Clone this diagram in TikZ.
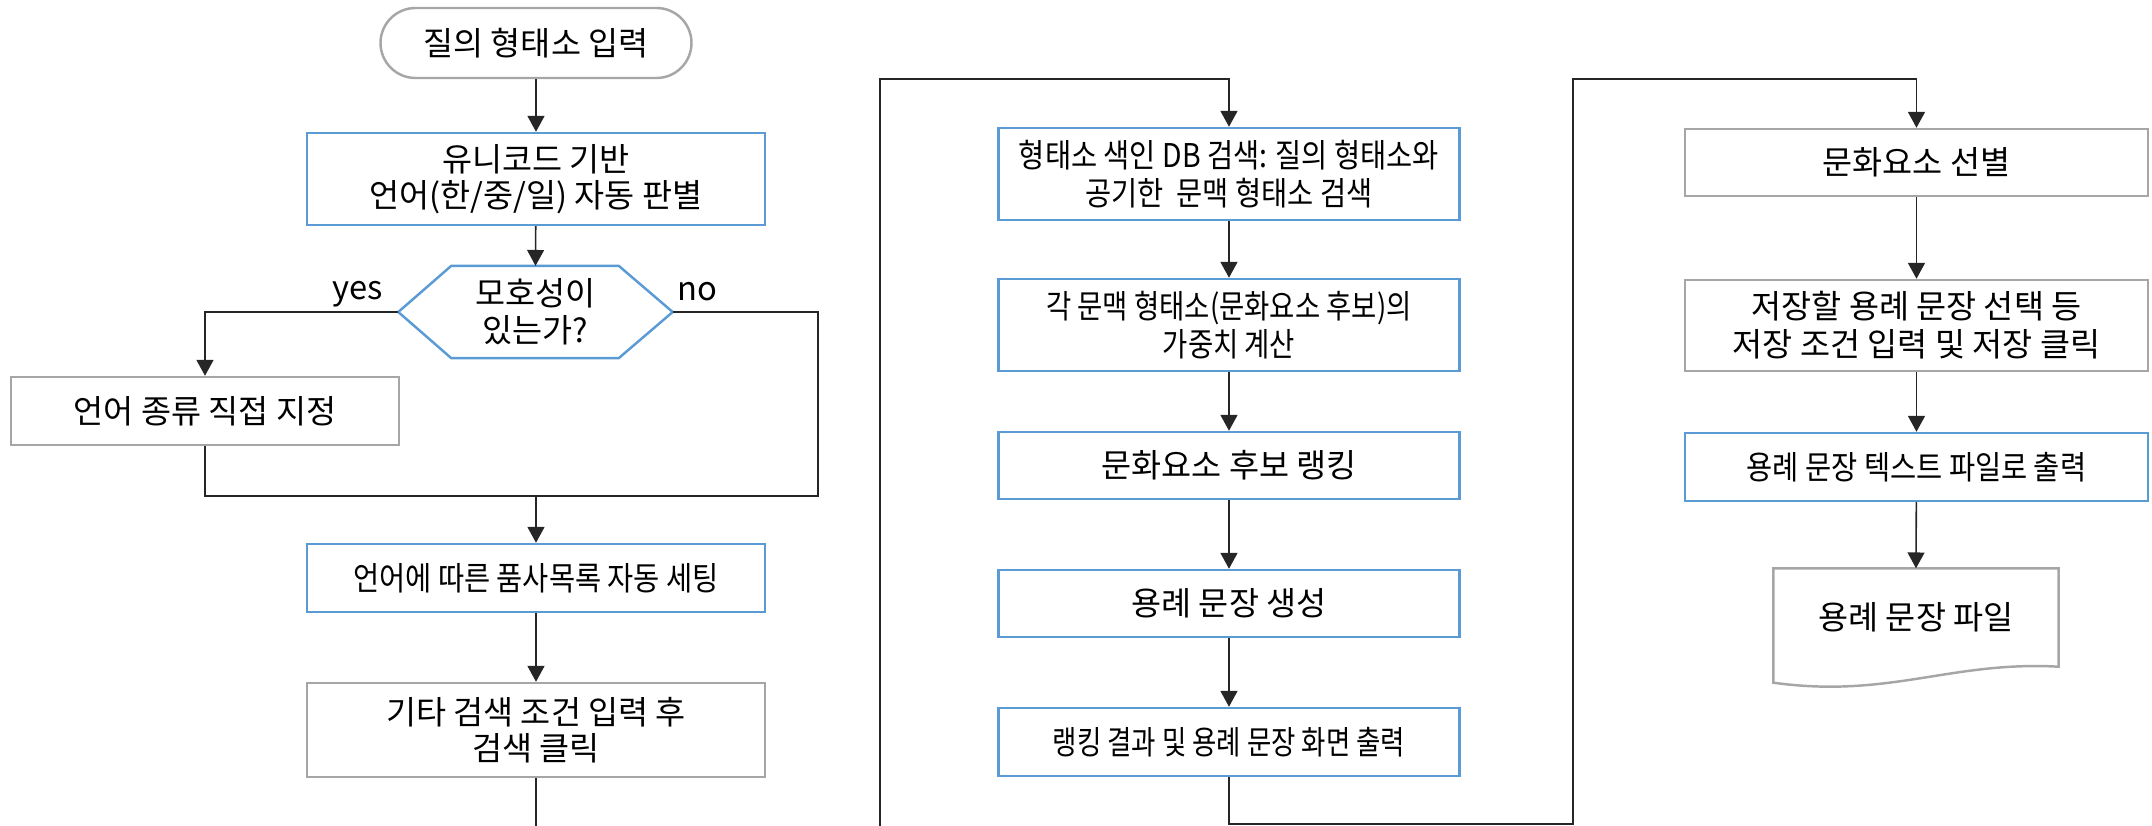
\documentclass[tikz,border=0pt]{standalone}
\usepackage{fontspec}
\setmainfont{Noto Sans CJK KR}
\newfontfamily\fa[FakeStretch=0.87]{Noto Sans CJK KR}
\newfontfamily\fb[FakeStretch=0.84]{Noto Sans CJK KR}
\newfontfamily\fc[FakeStretch=0.81]{Noto Sans CJK KR}
\usetikzlibrary{arrows.meta,calc}
\definecolor{boxblue}{HTML}{5B9BD5}
\definecolor{boxgray}{HTML}{A6A6A6}
\definecolor{linecol}{HTML}{262626}
\newcommand{\fs}{\fontsize{9.3pt}{10.1pt}\selectfont}
\newcommand{\fsc}{\fontsize{9.3pt}{10.8pt}\selectfont}
\newcommand{\fsd}{\fontsize{9.3pt}{10.6pt}\selectfont}
\begin{document}
\begin{tikzpicture}[x=1cm,y=1cm,
  font=\fs,
  box/.style={line width=0.7pt, align=center, inner sep=0pt, fill=white},
  bluebox/.style={box, draw=boxblue},
  graybox/.style={box, draw=boxgray},
  conn/.style={line width=0.45pt, draw=linecol, -{Triangle[width=4.8pt,length=4.5pt]}},
  plain/.style={line width=0.45pt, draw=linecol},
]
\useasboundingbox (0,0) rectangle (21.52,-8.26);
\clip (0,0) rectangle (21.52,-8.26);

% ---------- left column ----------
\node[graybox, rounded corners=0.35cm, minimum width=3.11cm, minimum height=0.70cm] (term) at (5.36,-0.43) {질의 형태소 입력};
\node[bluebox, minimum width=4.58cm, minimum height=0.92cm] (b1) at (5.36,-1.79) {유니코드 기반\\언어(한/중/일) 자동 판별};
\node[minimum width=2.73cm, minimum height=0.91cm, inner sep=0pt, align=center, font=\fsd] (dec) at (5.355,-3.12) {모호성이\\있는가?};
\draw[draw=boxblue, line width=0.7pt] (dec.west) -- ($(dec.north west)+(0.53,0)$) -- ($(dec.north east)+(-0.54,0)$) -- (dec.east) -- ($(dec.south east)+(-0.54,0)$) -- ($(dec.south west)+(0.53,0)$) -- cycle;
\node (yes) at (3.58,-2.94) {yes};
\node (no) at (6.97,-2.92) {no};
\node[graybox, minimum width=3.88cm, minimum height=0.68cm] (lang) at (2.05,-4.11) {언어 종류 직접 지정};
\node[bluebox, minimum width=4.58cm, minimum height=0.68cm, font=\fa\fs] (pos) at (5.36,-5.78) {언어에 따른 품사목록 자동 세팅};
\node[graybox, minimum width=4.58cm, minimum height=0.94cm] (etc) at (5.36,-7.30) {기타 검색 조건 입력 후\\검색 클릭};

% ---------- centre column ----------
\node[bluebox, minimum width=4.61cm, minimum height=0.92cm, font=\fa\fsc] (c1) at (12.29,-1.74) {형태소 색인 DB 검색: 질의 형태소와\\공기한\ \ 문맥 형태소 검색};
\node[bluebox, minimum width=4.61cm, minimum height=0.92cm, font=\fb\fsc] (c2) at (12.29,-3.25) {각 문맥 형태소(문화요소 후보)의\\가중치 계산};
\node[bluebox, minimum width=4.61cm, minimum height=0.67cm] (c3) at (12.29,-4.655) {문화요소 후보 랭킹};
\node[bluebox, minimum width=4.61cm, minimum height=0.67cm] (c4) at (12.29,-6.035) {용례 문장 생성};
\node[bluebox, minimum width=4.61cm, minimum height=0.68cm, font=\fc\fs] (c5) at (12.29,-7.42) {랭킹 결과 및 용례 문장 화면 출력};

% ---------- right column ----------
\node[graybox, minimum width=4.63cm, minimum height=0.67cm] (r1) at (19.165,-1.625) {문화요소 선별};
\node[graybox, minimum width=4.63cm, minimum height=0.91cm, font=\fsc] (r2) at (19.165,-3.255) {저장할 용례 문장 선택 등\\저장 조건 입력 및 저장 클릭};
\node[bluebox, minimum width=4.63cm, minimum height=0.68cm, font=\fa\fs] (r3) at (19.165,-4.67) {용례 문장 텍스트 파일로 출력};
\node[minimum width=2.84cm, minimum height=0.97cm, inner sep=0pt] (doc) at (19.16,-6.175) {};
\draw[draw=boxgray, line width=0.7pt, fill=white] (doc.north west) -- (doc.north east) -- (doc.south east)
  .. controls ($(doc.south east)+(-1.08,0.06)$) and ($(doc.south west)+(1.16,-0.32)$) .. ($(doc.south west)+(0,-0.16)$) -- cycle;
\node at (doc) {용례 문장 파일};

% ---------- connectors ----------
\coordinate (mR) at (8.18,-4.96);
\coordinate (botL) at (5.36,-8.70);
\coordinate (loopL) at (8.80,-0.79);
\coordinate (botM) at (12.29,-8.24);
\coordinate (loopR) at (15.73,-0.79);

\draw[conn] (term) -- (b1);
\draw[conn] (b1) -- (dec.north);
\draw[conn] (dec.west) -| (lang.north);
\draw[plain] (dec.east) -| (mR) -| (lang.south);
\draw[conn] (pos.north |- mR) -- (pos.north);
\draw[conn] (pos) -- (etc);
\draw[conn] (etc.south) -- (botL) -| (loopL) -| (c1.north);

\draw[conn] (c1) -- (c2);
\draw[conn] (c2) -- (c3);
\draw[conn] (c3) -- (c4);
\draw[conn] (c4) -- (c5);
\draw[conn] (c5.south) -- (botM) -| (loopR) -| (r1.north);

\draw[conn] (r1) -- (r2);
\draw[conn] (r2) -- (r3);
\draw[conn] (r3) -- (doc.north);
\end{tikzpicture}
\end{document}
